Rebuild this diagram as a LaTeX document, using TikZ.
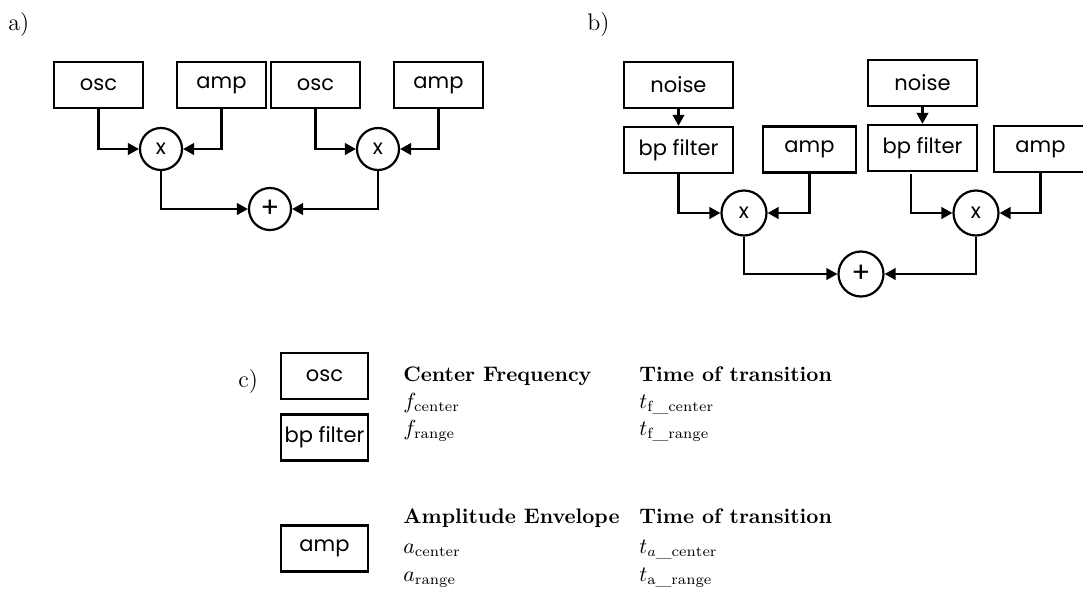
\documentclass[tikz,border=0pt]{standalone}
\usepackage{fontspec}
\newfontfamily\geofont{Poppins}
\usetikzlibrary{arrows.meta}

\begin{document}
\begin{tikzpicture}[x=0.5pt,y=-0.5pt,line cap=butt,line join=miter,
  blk/.style={draw,line width=1.2pt,minimum width=44.5pt,minimum height=23pt,inner sep=0pt,font=\geofont\fontsize{10.5}{12}\selectfont},
  wideblk/.style={blk,minimum width=54.5pt},
  ampblk/.style={blk,minimum width=46.5pt},
  op/.style={circle,draw,line width=1.1pt,minimum size=21pt,inner sep=0pt,font=\geofont\fontsize{10.5}{12}\selectfont},
  bigop/.style={op,minimum size=22.5pt},
  sumfont/.style={font=\geofont\fontsize{14}{14}\selectfont},
  wire/.style={line width=1.1pt,-{Triangle[length=5.5pt,width=5.8pt]}},
  tag/.style={anchor=base west,inner sep=0pt,font=\fontsize{10.5}{12}\selectfont},
  panel/.style={anchor=base west,inner sep=0pt,font=\fontsize{12}{14}\selectfont}]
\path[use as bounding box] (0,0) rectangle (1083,590);
% a)
\node[panel] (la) at (8,30) {a)};
\node[blk] (osc1) at (98.5,85) {osc};
\node[blk] (amp1) at (221.5,85) {amp};
\node[blk] (osc2) at (315.5,85) {osc};
\node[blk] (amp2) at (438.5,85) {amp};
\node[op] (mul1) at (161,149) {x};
\node[op] (mul2) at (378,149) {x};
\node[op,sumfont] (sum1) at (270,209) {+};
\draw[wire] (osc1) |- (mul1);
\draw[wire] (amp1) |- (mul1);
\draw[wire] (osc2) |- (mul2);
\draw[wire] (amp2) |- (mul2);
\draw[wire] (mul1) |- (sum1);
\draw[wire] (mul2) |- (sum1);
% b)
\node[panel] (lb) at (587,30) {b)};
\node[wideblk] (noise1) at (678.5,85) {noise};
\node[wideblk] (bpf1) at (678.5,150) {bp filter};
\node[ampblk] (amp3) at (809.5,149.5) {amp};
\node[wideblk] (noise2) at (922.5,83) {noise};
\node[wideblk] (bpf2) at (922.5,148) {bp filter};
\node[ampblk] (amp4) at (1040.5,149) {amp};
\node[bigop] (mul3) at (744,213) {x};
\node[bigop] (mul4) at (976,213) {x};
\node[bigop,sumfont] (sum2) at (861,274) {+};
\draw[wire] (noise1) -- (bpf1);
\draw[wire] (noise2) -- (bpf2);
\draw[wire] (bpf1) |- (mul3);
\draw[wire] (amp3) |- (mul3);
\draw[wire] ([xshift=-5.75pt,yshift=-1pt]bpf2.south) |- (mul4);
\draw[wire] (amp4) |- (mul4);
\draw[wire] (mul3) |- (sum2);
\draw[wire] (mul4) |- (sum2);
% c)
\node[panel] (lc) at (238,387) {c)};
\node[blk,minimum width=43.5pt] (osc3) at (324.5,376) {osc};
\node[blk,minimum width=43.5pt] (bpf3) at (324.5,437.5) {bp filter};
\node[blk,minimum width=43.5pt] (amp5) at (324.5,548.5) {amp};
\node[tag] (fhead) at (403,381) {\bfseries Center Frequency};
\node[tag] (fc) at (403,408) {$f_{\mathrm{center}}$};
\node[tag] (fr) at (403,435) {$f_{\mathrm{range}}$};
\node[tag] (tfhead) at (639,381) {\bfseries Time of transition};
\node[tag] (tfc) at (639,408) {$t_{\mathrm{f\_center}}$};
\node[tag] (tfr) at (639,435) {$t_{\mathrm{f\_range}}$};
\node[tag] (ahead) at (403,523) {\bfseries Amplitude Envelope};
\node[tag] (ac) at (403,553) {$a_{\mathrm{center}}$};
\node[tag] (ar) at (403,581) {$a_{\mathrm{range}}$};
\node[tag] (tahead) at (639,523) {\bfseries Time of transition};
\node[tag] (tac) at (639,553) {$t_{a\_\mathrm{center}}$};
\node[tag] (tar) at (639,581) {$t_{\mathrm{a\_range}}$};
\end{tikzpicture}
\end{document}
